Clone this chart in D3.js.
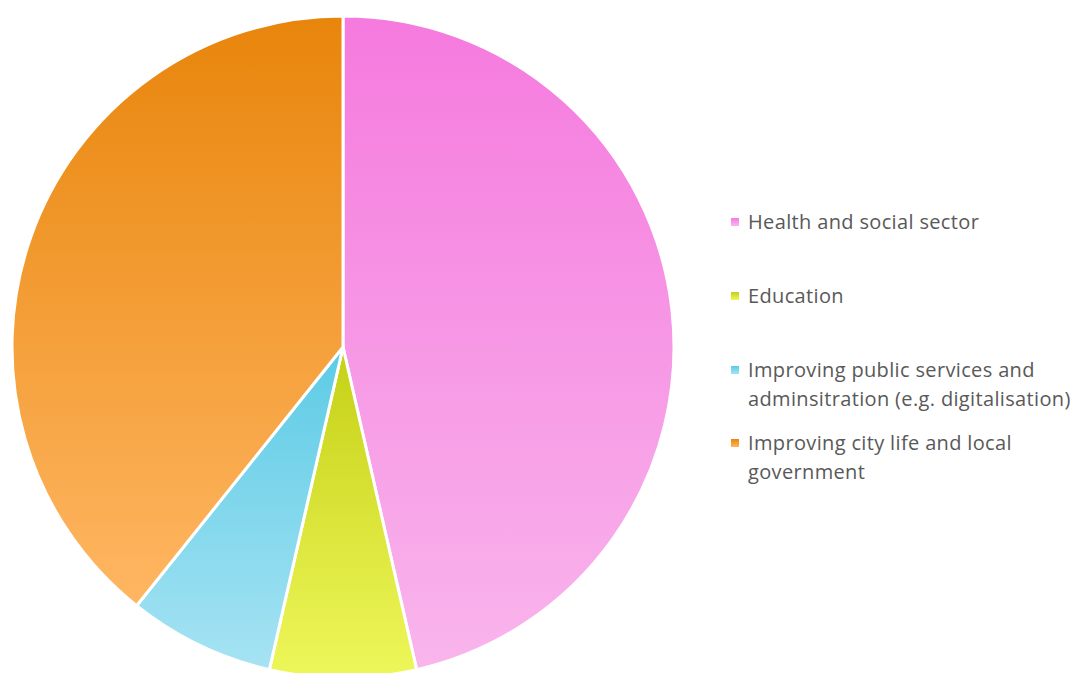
<!DOCTYPE html>
<html>
<head>
<meta charset="utf-8">
<script src="https://cdn.jsdelivr.net/npm/d3@7"></script>
<style>
  body { margin: 0; background: #fff; }
  text { font-family: "Open Sans", Lato, sans-serif; }
</style>
</head>
<body>
<script>
// data
var categories = ['Health and social sector', 'Education',
    'Improving public services and adminsitration (e.g. digitalisation)',
    'Improving city life and local government'];
var values = [13, 2, 2, 11];
var legendLines = [['Health and social sector'], ['Education'],
    ['Improving public services and', 'adminsitration (e.g. digitalisation)'],
    ['Improving city life and local', 'government']];
var topColors = ['#f57ade', '#c5d016', '#5ccbe5', '#e8850b'];
var bottomColors = ['#f9b5ec', '#eef75a', '#a6e3f3', '#ffb662'];

var width = 1078, height = 673;
var cx = 343, cy = 347, radius = 331;

var svg = d3.select('body').append('svg')
    .attr('width', width)
    .attr('height', height);

var defs = svg.append('defs');
categories.forEach(function(c, i) {
    var g = defs.append('linearGradient')
        .attr('id', 'grad' + i)
        .attr('x1', 0).attr('y1', 0).attr('x2', 0).attr('y2', 1);
    g.append('stop').attr('offset', '0%').attr('stop-color', topColors[i]);
    g.append('stop').attr('offset', '100%').attr('stop-color', bottomColors[i]);
});

var pie = d3.pie().sort(null).value(function(d) { return d; });
var arc = d3.arc().innerRadius(0).outerRadius(radius);

svg.append('g')
    .attr('transform', 'translate(' + cx + ',' + cy + ')')
    .selectAll('path')
    .data(pie(values))
    .enter().append('path')
    .attr('d', arc)
    .attr('fill', function(d, i) { return 'url(#grad' + i + ')'; })
    .attr('stroke', '#fff')
    .attr('stroke-width', 3)
    .attr('stroke-linejoin', 'round');

// legend
var legendY = [229, 303, 377, 450];
var legend = svg.append('g');
legendLines.forEach(function(lines, i) {
    var g = legend.append('g');
    g.append('rect')
        .attr('x', 731).attr('y', legendY[i] - 11)
        .attr('width', 8).attr('height', 8)
        .attr('fill', 'url(#grad' + i + ')');
    lines.forEach(function(l, j) {
        g.append('text')
            .attr('x', 748)
            .attr('y', legendY[i] + j * 29)
            .attr('font-size', 20)
            .attr('letter-spacing', 0.35)
            .attr('fill', '#595959')
            .text(l);
    });
});
</script>
</body>
</html>
